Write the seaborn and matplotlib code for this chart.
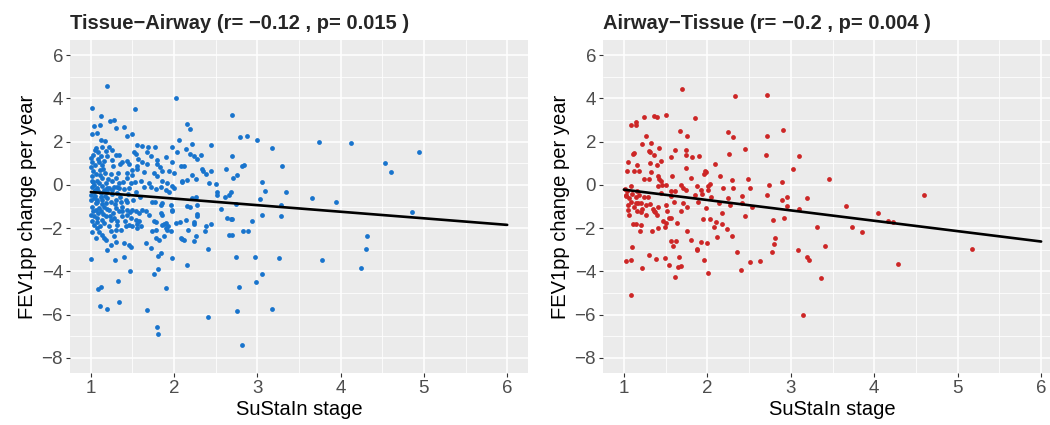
import matplotlib
matplotlib.use("Agg")
import matplotlib.pyplot as plt
import seaborn as sns
import numpy as np
import pandas as pd
from matplotlib.ticker import MultipleLocator

# (SuStaIn stage, FEV1pp change per year)
tissue_airway_points = [
    (1.20, 4.57), (2.02, 4.03), (1.01, 3.56), (1.53, 3.51), (1.12, 3.20), (2.70, 3.24), (1.23, 2.97),
    (1.28, 3.00), (1.04, 2.73), (1.11, 2.77), (1.30, 2.62), (1.40, 2.66), (2.16, 2.82), (2.19, 2.57),
    (1.07, 2.42), (1.01, 2.33), (1.50, 2.36), (1.44, 2.25), (1.12, 2.06), (1.17, 2.05), (2.79, 2.22),
    (2.87, 2.28), (3.00, 2.09), (2.06, 2.06),
    (1.98, 1.77), (1.56, 1.85), (1.62, 1.80), (1.69, 1.77), (1.77, 1.76), (2.03, 1.54), (1.06, 1.70),
    (1.13, 1.77), (1.22, 1.76), (1.09, 1.51), (1.03, 1.39), (1.00, 1.25), (1.52, 1.54), (1.54, 1.42),
    (1.67, 1.51), (1.72, 1.34), (1.79, 1.16), (1.90, 1.28), (1.97, 1.08), (1.20, 1.34), (1.30, 1.39),
    (1.34, 1.36), (1.16, 1.11), (1.25, 1.14), (1.10, 1.05), (1.05, 0.93), (1.00, 0.83), (1.35, 0.96),
    (1.46, 0.96), (1.56, 0.86), (1.62, 1.05), (1.68, 0.96), (1.80, 0.97), (1.83, 0.82), (1.86, 0.66),
    (1.94, 0.62), (2.00, 0.57), (1.76, 0.54), (1.64, 0.59), (1.56, 0.73), (1.44, 0.54), (1.50, 0.46),
    (1.03, 0.62), (1.11, 0.70), (1.17, 0.57), (1.24, 0.50), (2.08, 0.85), (2.09, 0.16), (1.01, 0.39),
    (1.07, 0.19), (1.13, 0.31), (1.26, 0.16), (1.30, 0.31), (1.34, 0.08), (1.44, 0.31), (1.48, 0.08),
    (1.60, 0.16), (1.70, 0.08), (1.80, 0.39), (1.86, 0.16), (1.92, 0.08), (1.98, -0.07), (1.04, 0.00),
    (1.14, -0.07), (1.20, -0.15), (1.32, -0.12), (1.40, -0.18),
    (2.21, 1.89), (2.44, 1.86), (2.14, 1.65), (2.32, 1.37), (2.27, 1.19), (2.19, 1.44), (2.24, 1.34),
    (2.62, 0.74), (2.70, 1.34), (2.84, 0.94), (2.82, 0.86), (2.76, 0.45), (2.71, 0.32), (2.12, 0.86),
    (2.33, 0.75), (2.35, 0.66), (2.38, 0.51), (2.44, 0.63), (2.22, 0.45), (2.10, 0.15), (2.16, 0.22),
    (2.26, 0.28), (2.42, 0.08), (2.50, 0.05), (3.17, 1.72), (3.74, 1.98), (4.13, 1.95), (4.94, 1.54),
    (3.30, 0.85), (4.53, 1.00), (4.60, 0.60), (3.05, 0.12),
    (2.51, -0.32), (2.52, -0.48), (2.61, -0.54), (2.68, -0.32), (2.66, -0.48), (2.56, -1.12),
    (2.26, -0.55), (2.21, -0.60), (2.16, -0.98), (2.27, -1.34), (3.09, -0.29), (3.34, -0.34),
    (3.03, -0.66), (3.66, -0.63), (3.95, -0.78), (3.28, -0.94), (2.74, -0.89), (3.05, -1.38),
    (3.28, -1.42), (2.68, -1.60), (4.86, -1.25), (2.93, -1.66), (2.83, -2.12), (2.89, -2.12),
    (2.70, -2.34), (2.66, -2.33), (4.32, -2.38), (4.30, -2.95), (2.74, -3.35), (2.97, -3.34),
    (3.26, -3.38), (3.78, -3.48), (4.24, -3.83), (3.06, -4.12), (2.98, -4.51), (2.78, -4.71),
    (2.76, -5.83), (3.18, -5.72), (2.82, -7.41), (2.15, -3.71), (2.41, -2.98), (2.41, -6.11),
    (2.10, -2.49), (2.12, -2.55), (2.24, -2.60), (2.26, -2.38), (2.64, -1.55), (2.69, -1.58),
    (2.44, -1.80), (2.37, -2.11), (2.38, -1.92), (2.17, -2.08), (2.24, -1.72), (2.24, -1.81),
    (2.14, -1.62), (2.07, -1.72), (2.28, -1.42), (2.19, -1.03), (2.27, -0.95), (2.00, -0.15),
    (2.02, -1.77), (2.08, -2.46),
    (1.02, -0.08), (1.08, -0.15), (1.22, -0.15), (1.28, -0.08), (1.34, -0.15), (1.46, -0.15),
    (1.54, -0.31), (1.64, -0.12), (1.72, -0.08), (1.78, -0.18), (1.84, -0.12), (1.90, -0.23),
    (1.94, -0.31), (1.04, -0.31), (1.12, -0.38), (1.20, -0.34), (1.32, -0.38), (1.00, -0.46),
    (1.00, -0.69), (1.04, -0.62), (1.08, -0.77), (1.14, -0.69), (1.18, -0.85), (1.24, -0.77),
    (1.30, -0.69), (1.36, -0.77), (1.42, -0.69), (1.44, -0.80), (1.74, -0.77), (1.77, -0.77),
    (1.86, -0.85), (1.84, -0.92), (1.96, -0.92),
    (1.02, -1.00), (1.06, -1.15), (1.10, -1.08), (1.12, -1.23), (1.16, -1.00), (1.22, -1.15),
    (1.30, -1.08), (1.34, -1.23), (1.38, -1.23), (1.44, -1.15), (1.50, -1.15), (1.54, -1.23),
    (1.58, -1.31), (1.62, -1.15), (1.66, -1.20), (1.70, -1.38), (1.84, -1.31), (1.98, -1.15),
    (1.00, -1.38), (1.04, -1.46), (1.08, -1.54), (1.14, -1.62), (1.18, -1.46), (1.24, -1.62),
    (1.28, -1.54), (1.32, -1.69), (1.38, -1.46), (1.44, -1.38), (1.48, -1.54), (1.54, -1.62),
    (1.58, -1.69), (1.76, -1.69), (1.86, -1.85), (1.90, -1.77),
    (1.04, -1.85), (1.08, -2.00), (1.16, -1.77), (1.22, -1.92), (1.24, -2.15), (1.30, -2.08),
    (1.42, -1.92), (1.46, -1.85), (1.50, -1.92), (1.56, -2.00), (1.60, -1.92), (1.74, -2.15),
    (1.78, -2.08), (1.90, -2.00), (1.92, -2.08), (1.96, -2.15),
    (1.16, -2.46), (1.18, -2.54), (1.24, -2.77), (1.30, -2.62), (1.40, -2.69), (1.46, -2.77),
    (1.48, -2.85), (1.66, -2.69), (1.72, -2.92), (1.78, -2.46), (1.82, -2.54), (1.88, -2.38),
    (1.98, -1.19), (1.88, -1.83), (1.93, -1.91), (1.86, -1.37), (1.78, -1.72),
    (1.00, -3.42), (1.29, -3.49), (1.40, -3.32), (1.47, -3.97), (1.33, -4.45), (1.09, -4.80),
    (1.12, -4.74), (1.11, -5.60), (1.20, -5.72), (1.34, -5.40), (1.68, -5.78), (1.79, -6.58),
    (1.81, -6.88), (1.76, -4.12), (1.81, -3.88), (1.90, -4.75), (1.84, -3.15), (1.81, -3.29),
    (1.97, -3.38), (1.20, -3.00),
    (1.02, 0.20), (1.05, -0.50), (1.06, 0.48), (1.09, -0.30), (1.10, 0.10), (1.03, -1.20),
    (1.06, -0.85), (1.12, -0.55), (1.15, -1.35), (1.18, 0.10), (1.07, -1.70), (1.11, -1.90),
    (1.01, -1.65), (1.13, 0.90), (1.09, 1.20), (1.20, -0.60), (1.26, -0.40), (1.27, -1.30),
    (1.05, 1.60), (1.16, -0.25),
    (1.01, 1.05), (1.03, 0.15), (1.05, -0.25), (1.07, -0.70), (1.09, -1.30), (1.11, 0.45),
    (1.13, -0.90), (1.15, 0.75), (1.17, -0.50), (1.19, -1.10), (1.21, 0.25), (1.23, -1.45),
    (1.25, -0.25), (1.27, 0.85), (1.29, -0.90), (1.31, -1.85), (1.33, 0.55), (1.35, -0.55),
    (1.37, -1.00), (1.39, 0.15), (1.41, -1.65), (1.43, 1.10), (1.45, -0.40), (1.47, -1.25),
    (1.49, 0.70), (1.51, -0.70), (1.53, 0.15), (1.55, -1.80), (1.57, 1.20), (1.59, -0.55),
    (1.02, -2.20), (1.06, -2.45), (1.10, -2.20), (1.14, -2.30), (1.28, -2.35), (1.36, -2.10),
    (1.12, 1.35), (1.18, 1.55), (1.26, 1.60), (1.38, 1.05),
]

airway_tissue_points = [
    (1.70, 4.43), (2.33, 4.11), (2.71, 4.16), (1.09, 2.77), (1.14, 2.93), (1.15, 2.77), (1.24, 3.16),
    (1.36, 3.20), (1.40, 3.13), (1.51, 3.23), (1.85, 3.08), (1.67, 2.49), (1.76, 2.25), (2.25, 2.45),
    (2.31, 2.23), (2.91, 2.53), (2.72, 2.26), (1.27, 2.28),
    (1.22, 1.90), (1.32, 1.92), (2.45, 1.66), (1.11, 1.43), (1.12, 1.46), (1.30, 1.57), (1.31, 1.51),
    (1.36, 1.37), (1.42, 1.69), (1.61, 1.59), (1.57, 1.30), (1.75, 1.60), (1.74, 1.39), (1.82, 1.28),
    (1.90, 1.33), (2.26, 1.45), (2.70, 1.40), (3.10, 1.34), (1.05, 1.06), (1.16, 0.93), (1.12, 0.66),
    (1.18, 0.63), (1.04, 0.65), (1.31, 1.03), (1.32, 0.60), (1.40, 0.94), (1.45, 1.09), (1.75, 0.77),
    (2.09, 0.97), (1.97, 0.66), (1.99, 0.59), (1.96, 0.49), (1.58, 0.39), (1.80, 0.31), (1.24, 0.28),
    (1.30, 0.29), (1.41, 0.39), (1.42, 0.28), (1.45, 0.20), (2.15, 0.39), (2.30, 0.22), (2.49, 0.29),
    (2.89, 0.12), (3.03, 0.74), (3.46, 0.25),
    (1.08, -0.06), (1.04, -0.30), (1.02, -0.52), (1.41, -0.07), (1.46, -0.01), (1.50, -0.01),
    (1.69, 0.00), (1.71, -0.15), (1.88, -0.04), (2.01, -0.07), (2.03, 0.02), (2.19, -0.13),
    (2.31, -0.15), (2.51, -0.15), (2.74, -0.01), (1.16, -0.27), (1.14, -0.54), (1.09, -0.77),
    (1.14, -0.84), (1.17, -0.86), (1.24, -0.58), (1.29, -0.54), (1.45, -0.38), (1.56, -0.27),
    (1.61, -0.27), (1.75, -0.26), (1.85, -0.46), (1.92, -0.26), (1.94, -0.44), (2.01, -0.26),
    (2.04, -0.54), (1.57, -0.51), (1.71, -0.84), (1.76, -1.00), (1.89, -0.77), (1.99, -1.07),
    (2.14, -0.84), (2.18, -1.28), (2.25, -0.63), (2.27, -0.92), (2.42, -0.51), (2.53, -1.04),
    (2.45, -1.46), (2.72, -0.46), (2.96, -0.58), (2.90, -0.69), (2.96, -0.98), (2.79, -1.61),
    (2.92, -1.51), (1.50, -0.92), (1.41, -1.00), (1.36, -1.23), (1.52, -1.20), (1.68, -1.23),
    (1.31, -0.89), (1.20, -0.84), (1.60, -0.77), (2.41, -0.84),
    (1.05, -1.18), (1.06, -1.38), (1.16, -1.20), (1.22, -1.11), (1.35, -1.12), (1.37, -1.27),
    (1.40, -1.41), (1.11, -1.81), (1.14, -1.80), (1.21, -1.86), (1.19, -2.15), (1.34, -2.15),
    (1.41, -2.01), (1.47, -1.69), (1.50, -1.74), (1.49, -1.95), (1.54, -1.54), (1.57, -1.54),
    (1.64, -1.74), (1.76, -2.12), (1.81, -2.54), (1.56, -2.61), (1.62, -2.61), (1.59, -2.83),
    (1.88, -2.97), (1.88, -3.03), (1.92, -2.66), (2.00, -2.67), (1.95, -1.57), (2.03, -1.60),
    (2.08, -1.94), (2.11, -1.71), (2.12, -2.41), (2.17, -1.80), (2.23, -2.06), (2.29, -2.38),
    (2.36, -3.10), (2.40, -3.92), (2.51, -3.55), (2.63, -3.51), (1.10, -2.86), (1.03, -3.50),
    (1.08, -3.46), (1.22, -3.86), (1.30, -3.24), (1.39, -3.43), (1.49, -3.40), (1.54, -3.69),
    (1.61, -4.24), (1.66, -3.34), (1.65, -3.80), (1.69, -3.77), (1.96, -3.47), (2.01, -4.07),
    (1.08, -5.11), (2.81, -2.47), (2.80, -2.72), (2.77, -3.12), (3.10, -1.12), (3.20, -0.61),
    (3.66, -0.98), (4.04, -1.29), (4.17, -1.69), (4.23, -1.72), (3.32, -1.95), (3.73, -1.94),
    (3.85, -2.17), (3.09, -3.03), (3.41, -2.83), (3.20, -3.34), (3.22, -3.47), (4.28, -3.67),
    (5.17, -2.95), (3.36, -4.31), (3.15, -6.00), (4.60, -0.46),
    (1.01, -0.20), (1.03, -0.45), (1.06, -0.60), (1.05, -0.95), (1.10, -0.40), (1.12, -1.00),
    (1.18, -0.45), (1.26, -0.95), (1.27, -1.40), (1.20, -1.25),
]

# fitted lines, read at stage 1 and stage 6
fit_stage = [1, 6]
tissue_airway_fit = [-0.33, -1.85]
airway_tissue_fit = [-0.22, -2.62]

titles = ["Tissue\u2212Airway (r= \u22120.12 , p= 0.015 )",
          "Airway\u2212Tissue (r= \u22120.2 , p= 0.004 )"]
colors = ["#1874CD", "#CD2626"]

sns.set_theme(style="darkgrid", rc={
    "axes.facecolor": "#EBEBEB",
    "grid.color": "white",
    "axes.edgecolor": "#EBEBEB",
})
plt.rcParams["font.family"] = ["Liberation Sans", "DejaVu Sans"]

fig = plt.figure(figsize=(10.5, 4.25), dpi=100)
ax_positions = [[70 / 1050, 52 / 425, 458 / 1050, 333 / 425],
                [603 / 1050, 52 / 425, 459 / 1050, 333 / 425]]

panels = [(tissue_airway_points, tissue_airway_fit), (airway_tissue_points, airway_tissue_fit)]
for i, (points, fit) in enumerate(panels):
    ax = fig.add_axes(ax_positions[i])
    df = pd.DataFrame(points, columns=["stage", "fev"])
    sns.scatterplot(data=df, x="stage", y="fev", ax=ax, color=colors[i], s=12,
                    linewidth=0, zorder=3)
    sns.lineplot(x=fit_stage, y=fit, ax=ax, color="black", linewidth=1.9, zorder=4)

    ax.set_xlim(0.75, 6.25)
    ax.set_ylim(-8.7, 6.7)
    ax.set_xticks([1, 2, 3, 4, 5, 6])
    ax.set_yticks([-8, -6, -4, -2, 0, 2, 4, 6])
    ax.xaxis.set_minor_locator(MultipleLocator(0.5))
    ax.yaxis.set_minor_locator(MultipleLocator(1))
    ax.grid(which="major", color="white", linewidth=1.1)
    ax.grid(which="minor", color="white", linewidth=0.55)
    for s in ax.spines.values():
        s.set_visible(False)
    ax.tick_params(axis="both", which="major", length=3, width=0.8, color="#333333",
                   labelsize=13.5, labelcolor="#4D4D4D", pad=2, bottom=True, left=True)
    ax.tick_params(axis="both", which="minor", length=0)
    ax.set_xlabel("SuStaIn stage", fontsize=14.5, color="black", labelpad=2)
    ax.set_ylabel("FEV1pp change per year", fontsize=14.5, color="black", labelpad=3)
    ax.set_title(titles[i], fontsize=14.5, fontweight="bold", loc="left", pad=8)

fig.savefig("out.png", dpi=100)
